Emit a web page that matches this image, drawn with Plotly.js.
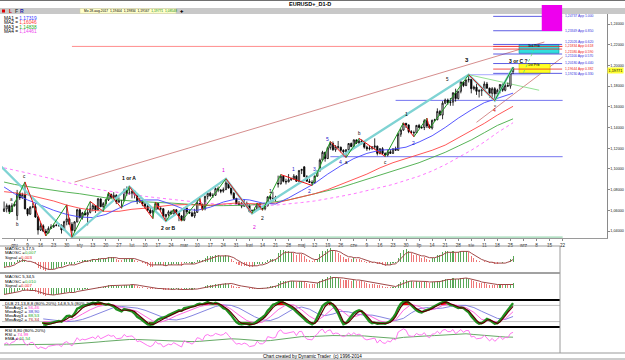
<!DOCTYPE html>
<html><head><meta charset="utf-8">
<script src="https://cdn.plot.ly/plotly-3.0.1.min.js"></script>
<style>html,body{margin:0;padding:0;background:#fff;overflow:hidden}#chart{width:625px;height:360px}</style>
</head><body><div id="chart"></div>
<script>
// ---- Daily EURUSD candles, 28-Nov-2016 .. 28-Aug-2017 (index = trading day) ----
const openP=[1.0590,1.0614,1.0645,1.0588,1.0645,1.0550,1.0765,1.0720,1.0752,1.0614,
1.0563,1.0630,1.0635,1.0535,1.0410,1.0450,1.0399,1.0382,1.0425,1.0440,
1.0453,1.0455,1.0455,1.0410,1.0490,1.0517,1.0465,1.0405,1.0488,1.0605,
1.0530,1.0575,1.0555,1.0580,1.0615,1.0645,1.0605,1.0710,1.0635,1.0665,
1.0700,1.0755,1.0725,1.0745,1.0680,1.0695,1.0695,1.0795,1.0760,1.0765,
1.0785,1.0750,1.0685,1.0695,1.0660,1.0640,1.0600,1.0575,1.0600,1.0665,
1.0615,1.0615,1.0540,1.0560,1.0585,1.0565,1.0605,1.0575,1.0545,1.0505,
1.0620,1.0585,1.0575,1.0545,1.0580,1.0670,1.0655,1.0615,1.0735,1.0765,
1.0740,1.0745,1.0810,1.0795,1.0785,1.0800,1.0865,1.0815,1.0765,1.0715,
1.0655,1.0665,1.0640,1.0665,1.0645,1.0590,1.0600,1.0605,1.0665,1.0615,
1.0615,1.0645,1.0730,1.0715,1.0710,1.0860,1.0855,1.0930,1.0880,1.0875,
1.0895,1.0905,1.0930,1.0880,1.0985,1.1020,1.0925,1.0880,1.0870,1.0865,
1.0930,1.0980,1.1085,1.1160,1.1100,1.1205,1.1245,1.1185,1.1215,1.1210,
1.1180,1.1165,1.1185,1.1245,1.1215,1.1280,1.1250,1.1270,1.1255,1.1210,
1.1195,1.1200,1.1210,1.1220,1.1150,1.1195,1.1150,1.1135,1.1165,1.1150,
1.1195,1.1180,1.1335,1.1375,1.1440,1.1425,1.1360,1.1350,1.1350,1.1420,
1.1400,1.1400,1.1465,1.1415,1.1395,1.1470,1.1475,1.1555,1.1520,1.1635,
1.1665,1.1640,1.1645,1.1735,1.1680,1.1750,1.1840,1.1805,1.1860,1.1865,
1.1775,1.1790,1.1750,1.1755,1.1765,1.1820,1.1780,1.1730,1.1775,1.1725,
1.1760,1.1815,1.1760,1.1805,1.1800,1.1940];
const highP=[1.0685,1.0666,1.0655,1.0668,1.0683,1.0797,1.0780,1.0770,1.0874,1.0620,
1.0640,1.0670,1.0667,1.0547,1.0478,1.0465,1.0420,1.0445,1.0465,1.0470,
1.0470,1.0475,1.0464,1.0499,1.0653,1.0530,1.0485,1.0495,1.0615,1.0620,
1.0585,1.0596,1.0620,1.0685,1.0660,1.0650,1.0720,1.0715,1.0680,1.0710,
1.0775,1.0760,1.0775,1.0755,1.0725,1.0700,1.0810,1.0830,1.0830,1.0790,
1.0790,1.0755,1.0720,1.0710,1.0690,1.0660,1.0620,1.0610,1.0680,1.0670,
1.0640,1.0620,1.0565,1.0600,1.0600,1.0610,1.0610,1.0585,1.0555,1.0625,
1.0630,1.0605,1.0590,1.0615,1.0700,1.0715,1.0665,1.0740,1.0770,1.0780,
1.0765,1.0820,1.0830,1.0805,1.0820,1.0905,1.0875,1.0825,1.0775,1.0720,
1.0690,1.0680,1.0705,1.0685,1.0660,1.0605,1.0625,1.0670,1.0670,1.0625,
1.0650,1.0735,1.0745,1.0780,1.0740,1.0935,1.0945,1.0935,1.0905,1.0950,
1.0915,1.0950,1.0940,1.0985,1.1000,1.1025,1.0940,1.0905,1.0890,1.0935,
1.0990,1.1100,1.1175,1.1165,1.1215,1.1265,1.1265,1.1230,1.1270,1.1215,
1.1190,1.1190,1.1250,1.1255,1.1285,1.1285,1.1295,1.1285,1.1270,1.1225,
1.1225,1.1220,1.1295,1.1225,1.1200,1.1210,1.1160,1.1185,1.1190,1.1195,
1.1215,1.1350,1.1390,1.1445,1.1445,1.1430,1.1375,1.1370,1.1425,1.1435,
1.1415,1.1480,1.1490,1.1430,1.1475,1.1485,1.1585,1.1570,1.1655,1.1680,
1.1680,1.1685,1.1740,1.1775,1.1750,1.1845,1.1845,1.1860,1.1910,1.1870,
1.1805,1.1825,1.1770,1.1775,1.1845,1.1840,1.1785,1.1790,1.1790,1.1775,
1.1820,1.1825,1.1825,1.1835,1.1940,1.1983];
const lowP=[1.0585,1.0580,1.0566,1.0585,1.0636,1.0505,1.0700,1.0713,1.0610,1.0544,
1.0556,1.0620,1.0527,1.0365,1.0400,1.0389,1.0352,1.0377,1.0420,1.0430,
1.0445,1.0440,1.0375,1.0405,1.0455,1.0460,1.0340,1.0390,1.0482,1.0520,
1.0510,1.0550,1.0455,1.0570,1.0590,1.0575,1.0600,1.0630,1.0590,1.0640,
1.0690,1.0710,1.0715,1.0660,1.0670,1.0620,1.0685,1.0740,1.0750,1.0715,
1.0715,1.0660,1.0670,1.0640,1.0615,1.0590,1.0565,1.0520,1.0590,1.0605,
1.0595,1.0525,1.0495,1.0540,1.0560,1.0560,1.0570,1.0495,1.0495,1.0495,
1.0565,1.0565,1.0535,1.0525,1.0575,1.0655,1.0600,1.0600,1.0705,1.0730,
1.0720,1.0740,1.0775,1.0765,1.0770,1.0795,1.0810,1.0745,1.0705,1.0650,
1.0645,1.0620,1.0635,1.0635,1.0580,1.0570,1.0580,1.0600,1.0605,1.0600,
1.0600,1.0635,1.0695,1.0685,1.0685,1.0820,1.0850,1.0870,1.0850,1.0870,
1.0885,1.0895,1.0875,1.0875,1.0950,1.0925,1.0880,1.0865,1.0840,1.0860,
1.0925,1.0975,1.1075,1.1070,1.1095,1.1185,1.1175,1.1165,1.1195,1.1160,
1.1145,1.1110,1.1175,1.1210,1.1205,1.1240,1.1240,1.1235,1.1195,1.1175,
1.1180,1.1185,1.1190,1.1130,1.1140,1.1140,1.1120,1.1120,1.1150,1.1145,
1.1175,1.1175,1.1310,1.1370,1.1395,1.1345,1.1345,1.1310,1.1345,1.1390,
1.1385,1.1375,1.1395,1.1390,1.1380,1.1460,1.1470,1.1515,1.1480,1.1625,
1.1620,1.1610,1.1610,1.1650,1.1670,1.1730,1.1790,1.1800,1.1835,1.1730,
1.1760,1.1715,1.1690,1.1705,1.1755,1.1775,1.1690,1.1680,1.1660,1.1720,
1.1730,1.1745,1.1750,1.1795,1.1775,1.1917];
const closeP=[1.0614,1.0645,1.0588,1.0645,1.0662,1.0765,1.0720,1.0752,1.0614,1.0563,
1.0630,1.0635,1.0535,1.0410,1.0450,1.0399,1.0382,1.0425,1.0440,1.0453,
1.0455,1.0455,1.0410,1.0490,1.0517,1.0465,1.0405,1.0488,1.0605,1.0530,
1.0575,1.0555,1.0580,1.0615,1.0645,1.0605,1.0710,1.0635,1.0665,1.0700,
1.0755,1.0725,1.0745,1.0680,1.0695,1.0695,1.0795,1.0760,1.0765,1.0785,
1.0750,1.0685,1.0695,1.0660,1.0640,1.0600,1.0575,1.0600,1.0665,1.0615,
1.0615,1.0540,1.0560,1.0585,1.0565,1.0605,1.0575,1.0545,1.0505,1.0620,
1.0585,1.0575,1.0545,1.0580,1.0670,1.0655,1.0615,1.0735,1.0765,1.0740,
1.0745,1.0810,1.0795,1.0785,1.0800,1.0865,1.0815,1.0765,1.0715,1.0655,
1.0665,1.0640,1.0665,1.0645,1.0590,1.0600,1.0605,1.0665,1.0615,1.0615,
1.0645,1.0730,1.0715,1.0710,1.0725,1.0855,1.0930,1.0880,1.0875,1.0895,
1.0905,1.0930,1.0880,1.0985,1.0995,1.0925,1.0880,1.0870,1.0865,1.0930,
1.0980,1.1085,1.1160,1.1100,1.1205,1.1245,1.1185,1.1215,1.1210,1.1180,
1.1165,1.1185,1.1245,1.1215,1.1280,1.1250,1.1270,1.1255,1.1210,1.1195,
1.1200,1.1210,1.1220,1.1150,1.1195,1.1150,1.1135,1.1165,1.1150,1.1195,
1.1180,1.1335,1.1375,1.1440,1.1425,1.1360,1.1350,1.1350,1.1420,1.1400,
1.1400,1.1465,1.1415,1.1395,1.1470,1.1475,1.1555,1.1520,1.1635,1.1665,
1.1640,1.1645,1.1735,1.1680,1.1750,1.1840,1.1805,1.1860,1.1865,1.1775,
1.1790,1.1750,1.1755,1.1765,1.1820,1.1780,1.1730,1.1775,1.1725,1.1760,
1.1815,1.1760,1.1805,1.1800,1.1925,1.19771];

// x-axis tick labels (Fridays, Polish month names)
const tickText=["gru","9","16","23","30","sty","13","20","27","lut","10","17","24","mar","10","17","24","31","kwi","14","21","28","maj","12","19","26","cze","9","16","23","30","lip","14","21","28","sie","11","18","25","wrz","8","15","22"];
const priceTicks=[1.04,1.06,1.08,1.10,1.12,1.14,1.16,1.18,1.20,1.22,1.24];

// moving averages read at weekly points
const maIdx=[0,4,9,14,19,24,29,34,39,44,49,54,59,64,69,74,79,84,89,94,99,104,109,114,119,124,129,134,139,144,149,154,159,164,169,174,179,184,189,195];
const ma1=[1.0825,1.0760,1.0700,1.0650,1.0600,1.0560,1.0535,1.0530,1.0560,1.0620,1.0680,1.0700,1.0700,1.0660,1.0610,1.0600,1.0630,1.0680,1.0710,1.0700,1.0670,1.0660,1.0720,1.0790,1.0860,1.0950,1.1030,1.1100,1.1150,1.1180,1.1190,1.1210,1.1260,1.1320,1.1400,1.1490,1.1570,1.1640,1.1680,1.17319];
const ma2=[1.0780,1.0770,1.0750,1.0720,1.0690,1.0650,1.0620,1.0600,1.0590,1.0590,1.0610,1.0620,1.0635,1.0650,1.0655,1.0650,1.0650,1.0660,1.0670,1.0665,1.0660,1.0670,1.0700,1.0730,1.0760,1.0800,1.0850,1.0900,1.0950,1.1010,1.1060,1.1100,1.1140,1.1180,1.1230,1.1300,1.1370,1.1440,1.1520,1.16046];
const ma3=[1.0873,1.0850,1.0830,1.0810,1.0790,1.0775,1.0760,1.0740,1.0720,1.0700,1.0690,1.0680,1.0675,1.0670,1.0660,1.0650,1.0645,1.0645,1.0650,1.0650,1.0665,1.0680,1.0700,1.0730,1.0760,1.0790,1.0820,1.0860,1.0900,1.0940,1.0980,1.1020,1.1060,1.1110,1.1160,1.1220,1.1280,1.1350,1.1420,1.14838];
const ma4=[1.1010,1.0990,1.0960,1.0930,1.0900,1.0870,1.0840,1.0810,1.0790,1.0770,1.0750,1.0735,1.0720,1.0705,1.0690,1.0675,1.0665,1.0660,1.0655,1.0650,1.0648,1.0650,1.0660,1.0675,1.0690,1.0710,1.0735,1.0760,1.0790,1.0820,1.0850,1.0890,1.0930,1.0980,1.1040,1.1110,1.1180,1.1260,1.1350,1.14461];

// swing points (minor zigzag) and major swings
const swingIdx=[2,8,16,24,26,33,38,40,45,48,57,58,62,65,68,75,76,85,95,97,99,106,118,125,131,136,146,153,157,162,163,178,188,195];
const swingPx=[1.0566,1.0874,1.0352,1.0653,1.0340,1.0685,1.0590,1.0775,1.0620,1.0830,1.0520,1.0680,1.0495,1.0610,1.0495,1.0715,1.0600,1.0905,1.0570,1.0670,1.0600,1.0945,1.0840,1.1265,1.1110,1.1295,1.1120,1.1445,1.1310,1.1490,1.1390,1.1910,1.1660,1.1983];
const majorIdx=[-1,26,48,62,85,95,178,188,195];
const majorPx=[1.1020,1.0340,1.0830,1.0495,1.0905,1.0570,1.1910,1.1660,1.1983];

// price projection levels
const fibPx=[1.24737,1.23349,1.22026,1.21834,1.21580,1.21100,1.20180,1.19644,1.19230];
const fibTxt=["1,24737 App 1.000","1,23349 App 0.850","1,22026 App 0.620","1,21834 App 0.618","1,21580 App 0.590","1,21100 App 0.570","1,20180 App 0.440","1,19644 App 0.382","1,19230 App 0.330"];
const fibCol=["#3333dd","#3333dd","#3333dd","#ee2222","#ee2222","#3333dd","#3333dd","#ee2222","#3333dd"];

// MACD 5,17,5 and 5,34,5 (units of 0.001)
const macd1=[-5,-4,-4,-3,-2,2,3,4,2,0,0,0,-2,-6,-7,-9,-10,-9,-8,-7,-6,-5,-5,-3,-2,-2,-3,-2,1,1,2,2,2,3,4,3,5,4,4,5,6,6,6,4,3,2,4,4,4,4,3,1,0,-1,-2,-4,-5,-5,-3,-3,-3,-4,-4,-3,-3,-2,-2,-3,-4,-1,-1,-1,-2,-1,2,3,2,5,7,7,7,8,8,7,7,8,7,4,1,-2,-3,-4,-4,-4,-5,-5,-4,-2,-2,-2,-1,3,4,4,4,10,14,14,13,12,11,10,8,9,9,7,4,2,1,2,4,9,13,13,15,16,14,12,10,8,6,4,5,4,5,4,4,3,1,-1,-1,-1,0,-2,-2,-3,-4,-3,-3,-1,-1,5,10,14,15,12,10,8,8,7,5,6,4,3,5,5,8,8,11,13,12,11,12,10,11,13,12,12,11,7,5,3,1,0,1,0,-1,-1,-2,-2,0,-1,0,0,4,7];
const signal1=[-6,-5,-5,-4,-3,-1,1,2,2,1,1,0,-1,-3,-4,-6,-7,-8,-8,-8,-7,-6,-6,-5,-4,-3,-3,-3,-2,-1,0,1,1,2,3,3,3,4,4,4,5,5,5,5,4,4,4,4,4,4,4,3,2,1,0,-1,-3,-3,-3,-3,-3,-3,-4,-3,-3,-3,-3,-3,-3,-2,-2,-2,-2,-2,-1,0,1,2,3,4,5,6,7,7,7,7,7,6,5,3,1,-1,-2,-3,-4,-4,-4,-4,-3,-3,-2,-1,1,2,3,5,8,10,11,11,11,11,10,10,10,9,7,6,4,3,3,5,7,9,11,13,13,13,12,11,9,7,6,6,5,5,5,4,3,2,1,0,0,-1,-1,-2,-3,-3,-3,-2,-2,1,4,7,10,11,11,10,9,8,7,7,6,5,5,5,6,7,8,10,11,11,11,11,11,12,12,12,12,10,8,6,4,3,2,1,0,0,-1,-1,-1,-1,-1,0,1,3];
const macd2=[-12,-11,-11,-10,-9,-5,-4,-3,-4,-6,-5,-5,-7,-11,-12,-14,-15,-14,-14,-13,-12,-11,-11,-9,-8,-8,-9,-8,-4,-4,-3,-2,-1,0,1,1,3,3,3,4,6,6,7,5,5,5,7,7,7,7,6,4,3,2,1,-1,-2,-2,-1,-1,-1,-3,-3,-3,-3,-2,-2,-3,-4,-2,-2,-2,-3,-2,0,1,1,4,6,6,7,8,8,8,9,10,9,7,5,3,2,1,1,0,-1,-2,-2,-1,-1,-1,0,3,4,4,5,10,14,15,15,15,15,15,13,15,15,13,11,9,8,9,11,15,19,19,22,24,23,22,21,19,17,16,16,15,16,15,15,14,12,10,9,9,9,6,6,4,3,3,2,3,3,8,12,16,17,15,14,13,14,13,12,13,12,11,12,12,14,14,17,19,19,18,20,18,19,21,20,20,19,16,15,13,11,10,10,9,7,7,6,6,7,6,7,6,9,10];
const signal2=[-13,-12,-12,-11,-10,-9,-7,-5,-4,-4,-5,-5,-5,-7,-9,-11,-12,-13,-14,-14,-13,-12,-12,-11,-10,-9,-9,-9,-7,-6,-5,-4,-3,-2,-1,0,1,2,2,3,4,5,5,5,5,5,6,6,6,7,7,6,5,4,3,2,1,0,0,-1,-1,-2,-2,-2,-3,-3,-2,-3,-3,-3,-3,-2,-3,-3,-2,-1,0,1,3,4,5,6,7,7,8,8,9,9,8,6,5,4,3,2,1,0,-1,-1,-1,-1,-1,0,1,2,3,5,8,10,12,13,14,14,14,14,14,14,13,12,11,10,10,12,14,16,18,20,21,21,21,21,20,19,18,17,16,16,16,15,14,13,12,11,10,9,8,7,6,5,4,3,3,5,7,10,12,13,14,14,14,13,13,13,13,12,12,12,13,13,14,16,17,17,18,18,18,19,19,20,19,18,17,15,14,12,11,10,9,8,7,7,7,7,7,7,7,7];

// DLB stochastic (fast green, slow dark red) from bar 15; thin averages every 3 bars from bar 15
const N=null;
const stFast=[N,N,N,N,N,N,N,N,N,N,N,N,N,N,N,
10,8,12,15,18,20,22,20,30,40,42,38,50,68,72,78,80,82,86,90,88,92,88,84,82,85,80,76,66,62,58,66,64,62,58,50,38,32,24,16,10,8,10,20,28,32,34,38,44,48,54,58,62,60,70,72,74,76,78,84,86,84,88,92,88,86,90,86,78,70,66,56,44,30,18,12,10,12,12,8,10,14,22,28,36,44,60,70,82,86,92,96,90,84,80,74,66,56,48,40,30,20,14,10,16,36,60,78,86,92,90,80,66,50,28,10,14,28,40,52,58,62,58,44,30,20,14,16,12,14,14,12,16,22,34,48,70,86,94,96,90,80,70,62,56,54,60,62,66,72,78,84,88,92,94,88,82,80,74,70,72,70,62,54,40,28,18,12,14,22,30,26,18,12,14,24,36,50,62,76,88.53];
const stSlow=[N,N,N,N,N,N,N,N,N,N,N,N,N,N,N,
14,12,11,12,14,17,19,20,24,30,36,38,43,52,62,70,76,80,82,85,87,89,89,87,84,83,82,80,74,68,62,62,63,63,61,57,48,40,31,23,16,11,10,13,19,26,31,35,39,44,49,54,58,60,64,68,72,74,76,80,83,84,86,89,89,88,88,87,83,77,71,63,53,41,29,20,14,12,11,10,10,11,15,21,29,37,49,60,72,80,86,91,92,88,84,79,72,63,54,46,37,28,20,14,13,22,40,60,76,85,89,86,76,62,42,20,13,18,28,40,50,57,59,52,40,28,19,16,14,13,13,13,14,18,26,38,56,74,86,92,92,86,77,68,61,57,57,60,63,68,74,80,85,89,92,91,86,82,78,73,71,71,67,60,49,36,25,16,13,17,25,27,23,16,13,18,28,41,54,67,76.34];
const stAvg1=[20,18,18,22,32,48,64,76,82,82,72,66,58,40,22,18,28,42,54,66,76,82,86,82,66,44,24,14,18,38,64,82,82,64,40,24,44,70,64,40,40,52,36,22,16,26,62,84,76,62,66,80,86,80,72,54,28,22,20,30,56.46];
const stAvg2=[30,26,22,20,22,28,38,50,62,72,76,74,70,62,50,38,28,26,32,42,54,66,76,82,80,70,54,38,26,24,34,52,68,74,66,50,42,48,58,56,48,44,44,38,30,24,32,52,68,72,68,70,76,80,80,72,58,44,32,28,38.90];

// RSI and its EMA (EMA read every 3 bars)
const rsi=[42,46,40,47,49,60,54,57,43,39,46,47,38,29,34,31,29,36,38,40,40,40,35,46,49,43,37,48,60,52,56,54,56,59,62,57,66,57,60,63,68,64,66,57,59,59,69,63,64,65,59,49,51,46,43,38,35,39,50,43,43,34,38,42,40,46,42,38,34,52,47,46,42,48,60,58,52,66,69,65,66,72,69,67,69,75,66,58,50,42,44,41,45,42,35,37,38,50,43,43,48,63,60,59,61,77,82,73,72,74,75,77,66,77,78,64,56,55,54,64,70,80,84,73,80,82,70,73,72,66,63,66,73,67,74,68,70,66,57,54,55,57,59,45,54,46,44,51,48,57,54,76,80,85,81,66,64,64,72,68,68,74,64,60,70,71,78,71,81,83,77,77,83,71,77,83,75,80,80,62,64,57,58,59,67,59,51,58,50,56,64,55,61,60,72,74.99];
const rsiEma=[40,40,41,42,42,41,41,41,42,43,44,46,48,50,52,54,55,55,54,52,51,50,49,49,49,50,52,54,56,57,56,54,52,51,52,55,58,61,63,63,63,65,66,66,66,66,65,63,61,59,58,61,63,64,65,66,67,69,70,71,69,67,65,63,62,61.54];

// ---------------- build ----------------
const W=625,H=360, X=p=>p/W, Y=p=>1-p/H;
const idx=closeP.map((_,i)=>i);
const xr0=-0.8, xr1=231;               // main x range (bar index)
const ppu=605/(xr1-xr0);               // px per bar
const x2r=[xr0, xr0+558/ppu];          // indicator panels are narrower
const F='Liberation Sans, Arial, sans-serif';

const traces=[];
const ln=(x,y,color,width,dash,xa,ya)=>({type:'scatter',mode:'lines',x,y,xaxis:xa||'x',yaxis:ya||'y',line:{color,width,dash:dash||'solid'},hoverinfo:'skip',connectgaps:false});

// MAs
traces.push(ln(maIdx,ma4,'#ff77ff',1,'dot'));
traces.push(ln(maIdx,ma3,'#44aa44',0.9));
traces.push(ln(maIdx,ma2,'#ff4444',0.9));
traces.push(ln(maIdx,ma1,'#4444ff',0.9));
// major swings (cyan)
traces.push(ln(majorIdx,majorPx,'#7fd3d3',2.2));
// candles
traces.push({type:'candlestick',x:idx,open:openP,high:highP,low:lowP,close:closeP,xaxis:'x',yaxis:'y',
  increasing:{line:{color:'#000',width:0.8},fillcolor:'#ffffff'},
  decreasing:{line:{color:'#000',width:0.8},fillcolor:'#000000'},whiskerwidth:0,hoverinfo:'skip'});
// minor zigzag: up legs green, down legs red
const upX=[],upY=[],dnX=[],dnY=[];
for(let i=1;i<swingIdx.length;i++){
  const up=swingPx[i]>swingPx[i-1];
  const ax=up?upX:dnX, ay=up?upY:dnY;
  ax.push(swingIdx[i-1],swingIdx[i],null); ay.push(swingPx[i-1],swingPx[i],null);
}
traces.push(ln(upX,upY,'#1f9a1f',1));
traces.push(ln(dnX,dnY,'#ee1111',1));

// MACD panels
const col=(a,b)=>a.map((v,i)=>v>=b[i]?'#58a858':'#ee7777');
traces.push({type:'bar',x:idx,y:macd1,xaxis:'x2',yaxis:'y2',width:0.4,marker:{color:col(macd1,signal1)},hoverinfo:'skip'});
traces.push(ln(idx,signal1,'#a04848',1,null,'x2','y2'));
traces.push({type:'bar',x:idx,y:macd2,xaxis:'x2',yaxis:'y3',width:0.4,marker:{color:col(macd2,signal2)},hoverinfo:'skip'});
traces.push(ln(idx,signal2,'#a04848',1,null,'x2','y3'));

// stochastic blocks
const bx=[],bb=[],bh=[],bc=[];
stFast.forEach((v,i)=>{const s=stSlow[i]; if(v==null)return;
  if(Math.min(v,s)>85){bx.push(i);bb.push(80);bh.push(Math.max(v,s)-80);bc.push('#ee0000');}
  else if(Math.max(v,s)<15){bx.push(i);bb.push(Math.min(v,s));bh.push(20-Math.min(v,s));bc.push('#4a7d10');}
});
traces.push({type:'bar',x:bx,y:bh,base:bb,xaxis:'x2',yaxis:'y4',width:1,marker:{color:bc,line:{width:0}},hoverinfo:'skip'});
const sIdx=stAvg1.map((_,i)=>15+3*i);
traces.push(ln(sIdx,stAvg2,'#7777dd',0.9,null,'x2','y4'));
traces.push(ln(sIdx,stAvg1,'#ff55dd',0.9,null,'x2','y4'));
traces.push(ln(idx,stFast,'#1f8f1f',2.4,null,'x2','y4'));
traces.push(ln(idx,stSlow,'#5a0000',1.2,null,'x2','y4'));
// RSI
const rIdx=rsiEma.map((_,i)=>3*i);
traces.push(ln(rIdx,rsiEma,'#66aa66',1,null,'x2','y5'));
traces.push(ln(idx,rsi,'#ff66ee',0.9,null,'x2','y5'));

// ---------------- shapes ----------------
const shapes=[];
const pr=(x0,y0,x1,y1,fill,line,lw)=>({type:'rect',xref:'paper',yref:'paper',x0:X(x0),x1:X(x1),y0:Y(y0),y1:Y(y1),fillcolor:fill||'rgba(0,0,0,0)',line:{color:line||'rgba(0,0,0,0)',width:lw||0},layer:'above'});
const pl=(x0,y0,x1,y1,color,w)=>({type:'line',xref:'paper',yref:'paper',x0:X(x0),x1:X(x1),y0:Y(y0),y1:Y(y1),line:{color,width:w||1},layer:'above'});
const dl=(x0,y0,x1,y1,color,w,dash)=>({type:'line',xref:'x',yref:'y',x0,x1,y0,y1,line:{color,width:w||1,dash:dash||'solid'},layer:'below'});

shapes.push(pl(0,0.5,625,0.5,'#707070',1));
shapes.push(pr(0,8,625,14,'#c8c8c8'));
shapes.push(pr(80,8.6,176,13.4,'#ffffcc','#d0d0a0',0.5));
shapes.push(pr(2,9.5,5,12.5,'#dd0000'));
// indicator frame
shapes.push(pl(0,246,560,246,'#9a9a9a',1));
shapes.push(pl(0,273,560,273,'#444',1));
shapes.push(pl(0,300,560,300,'#000',2));
shapes.push(pl(0,327,560,327,'#000',2));
shapes.push(pl(0,353,625,353,'#9a9a9a',1));
shapes.push(pl(560,246,560,353,'#9a9a9a',1));
shapes.push(pl(0,359,625,359,'#9a9a9a',1));
// stochastic 80/20 lines
shapes.push({type:'line',xref:'x2',yref:'y4',x0:x2r[0],x1:x2r[1],y0:80,y1:80,line:{color:'#b0b0b0',width:0.8},layer:'below'});
shapes.push({type:'line',xref:'x2',yref:'y4',x0:x2r[0],x1:x2r[1],y0:20,y1:20,line:{color:'#b0b0b0',width:0.8},layer:'below'});

// main chart helpers: channel, horizontals
shapes.push(dl(27,1.0873,207,1.2226,'#d08080',0.9));
shapes.push(dl(181,1.1450,214,1.2080,'#d08080',0.9));
shapes.push(dl(26,1.0340,214,1.0340,'#9ad6b0',1.2));
shapes.push(dl(150,1.1662,214,1.1662,'#6666ee',0.9));
shapes.push(dl(125,1.1118,214,1.1118,'#6666ee',0.9));
shapes.push(dl(26,1.21834,214,1.21834,'#ff8080',0.9));
shapes.push(dl(178,1.1910,205,1.1910,'#a0a0ff',0.9));
shapes.push(dl(178,1.1910,205,1.1760,'#88dd88',0.9));
// projection zone boxes
shapes.push({type:'rect',xref:'x',yref:'paper',x0:206,x1:213.8,y0:Y(31),y1:Y(5),fillcolor:'#ee00ee',line:{width:0},layer:'above'});
shapes.push({type:'rect',xref:'x',yref:'y',x0:197.3,x1:212.6,y0:1.2117,y1:1.2200,fillcolor:'#33dddd',line:{color:'#009999',width:0.6},layer:'below'});
shapes.push({type:'rect',xref:'x',yref:'y',x0:197.3,x1:209.2,y0:1.1925,y1:1.2018,fillcolor:'#ffff22',line:{color:'#cccc00',width:0.6},layer:'below'});
fibPx.forEach((p,i)=>shapes.push(dl(187.4,p,213.8,p,fibCol[i],0.8)));
// green projection arrow
shapes.push(dl(199,1.1930,203,1.2150,'#66dd66',0.8,'dot'));

// ---------------- annotations ----------------
const ann=[];
const ta=(x,y,text,color,size,opt)=>Object.assign({xref:'paper',yref:'paper',x:X(x),y:Y(y),text,showarrow:false,xanchor:'left',yanchor:'middle',font:{family:F,size:size||5,color:color||'#000'}},opt||{});
const da=(x,y,text,color,size,opt)=>Object.assign({xref:'x',yref:'y',x,y,text,showarrow:false,xanchor:'center',yanchor:'middle',font:{family:F,size:size||5,color:color||'#000'}},opt||{});

ann.push(ta(310,4.5,'<b>EURUSD+_D1-D</b>','#000',5.5,{xanchor:'center'}));
ann.push(ta(7,11,'<b>L</b>','#cc0000',5));
ann.push(ta(12.5,11,'<b>F</b>','#444',5));
ann.push(ta(17.5,11,'<b>R</b>','#2222aa',5));
ann.push(ta(81.5,11,'Mo 28-aug-2017  1,19404  1,19834  1,19167  <span style="color:#118811">1,19771</span>  <span style="color:#118811">1,08548</span>','#000',3.3));
ann.push(ta(182,11,'✚','#000',4.4,{xanchor:'center'}));

const maTxt=[['MA1 = ','1,17319','#3333ff'],['MA2 = ','1,16046','#ff3333'],['MA3 = ','1,14838','#22aa22'],['MA4 = ','1,14461','#ee44ee']];
maTxt.forEach((m,i)=>ann.push(ta(2,18+4.6*i,m[0]+'<span style="color:'+m[2]+'">'+m[1]+'</span>','#000',4.8)));

// current price tag on the price scale (nudged below the 1,20000 tick label)
ann.push({xref:'paper',yref:'y',x:X(615.7),y:1.19771,yshift:-3,text:'1,19771',showarrow:false,xanchor:'center',yanchor:'middle',
  bgcolor:'#ffff33',borderpad:0.6,font:{family:F,size:3.8,color:'#000'}});

// projection labels (small vertical nudges keep tightly packed labels legible)
const fibShift=[0,0,2.2,0,-2.6,-2.4,0.5,0,-0.8];
fibPx.forEach((p,i)=>ann.push({xref:'paper',yref:'y',x:X(563),y:p,yshift:fibShift[i],text:fibTxt[i],showarrow:false,xanchor:'left',yanchor:'middle',font:{family:F,size:3.4,color:fibCol[i]}}));
ann.push(da(200,1.2190,'3rd Prb','#000',3.6,{xanchor:'left'}));
ann.push(da(200,1.2008,'1st Prb','#000',3.6,{xanchor:'left'}));

// wave labels
ann.push(da(48,1.0915,'<b>1 or A</b>','#000',5));
ann.push(da(63,1.0432,'<b>2 or B</b>','#000',5));
ann.push(da(177.5,1.2050,'<b>3</b>','#000',6));
ann.push(da(197,1.2040,'<b>3 or C ?</b>','#000',5));
ann.push(da(84,1.0990,'1','#dd00dd',5));
ann.push(da(96,1.0440,'2','#dd00dd',5));
ann.push(da(8,1.0930,'c','#000',4.5));
ann.push(da(3,1.0700,'a','#000',4.5));
ann.push(da(5,1.0460,'b','#000',4.5));
ann.push(da(154,1.1530,'1','#000',5));
ann.push(da(157,1.1250,'2','#2222cc',5));
ann.push(da(170,1.1860,'5','#000',4.5));
ann.push(da(188,1.1570,'4','#cc0000',5));
ann.push(da(188,1.1610,'v','#000',4));
ann.push(da(119,1.1000,'3','#2222cc',5));
ann.push(da(124,1.1290,'5','#2222cc',5));
ann.push(da(129,1.1070,'4','#2222cc',5));
ann.push(da(117,1.0790,'2','#2222cc',5));
ann.push(da(111,1.1000,'1','#2222cc',5));
ann.push(da(102,1.0790,'1','#000',5));
ann.push(da(99,1.0530,'2','#000',5));
ann.push(da(136,1.1340,'b','#000',4.5));
ann.push(da(146,1.1060,'c','#000',4.5));
ann.push(da(131,1.1060,'a','#000',4.5));

// indicator legends
const L=(y,t)=>ann.push(ta(3,y,t,'#000',4.4));
L(248.5,'MAOSC 5,17,5');
L(252.8,'MAOSC =<span style="color:#22aa22">0,007</span>');
L(257.1,'Signal =<span style="color:#ee2222">0,003</span>');
L(276.7,'MAOSC 5,34,5');
L(281,'MAOSC =<span style="color:#22aa22">0,010</span>');
L(285.3,'Signal =<span style="color:#ee2222">0,007</span>');
L(303.5,'DLB 21,13,8,8 (80%-20%) 14,8,5,5 (80%-20%)');
L(307.5,'MovAvg1 = <span style="color:#ff33cc">56,46</span>');
L(311.5,'MovAvg2 = <span style="color:#3333cc">38,90</span>');
L(315.5,'MovAvg3 = <span style="color:#22aa22">88,53</span>');
L(319.5,'MovAvg2 = <span style="color:#aa2222">76,34</span>');
L(330,'RSI 8,80 (80%-20%)');
L(334.2,'RSI = <span style="color:#ff33cc">74,99</span>');
L(338.4,'EMA = <span style="color:#22aa22">61,54</span>');
ann.push(ta(312,356,'Chart created by Dynamic Trader  (c) 1996-2014','#000',4.6,{xanchor:'center'}));

// ---------------- layout ----------------
const ax2={domain:[X(2),X(560)],range:x2r,showgrid:false,zeroline:false,showticklabels:false,ticks:'',showline:false,fixedrange:true};
const yPanel=(d,r,anchor)=>({domain:d,range:r,showgrid:false,zeroline:false,showticklabels:false,ticks:'',showline:false,anchor:anchor||'x2',fixedrange:true});
const layout={
  width:W,height:H,margin:{l:0,r:0,t:0,b:0},paper_bgcolor:'#ffffff',plot_bgcolor:'rgba(0,0,0,0)',
  showlegend:false,hovermode:false,dragmode:false,
  xaxis:{domain:[X(2),X(607)],range:[xr0,xr1],showgrid:false,zeroline:false,rangeslider:{visible:false},
    tickmode:'array',tickvals:tickText.map((_,i)=>4+5*i),ticktext:tickText,ticks:'outside',ticklen:2,tickcolor:'#888',
    tickfont:{family:F,size:4.6,color:'#222'},showline:true,linecolor:'#9a9a9a',linewidth:1,anchor:'y',fixedrange:true},
  yaxis:{domain:[Y(238),Y(14)],range:[1.03324,1.24966],side:'right',showgrid:false,zeroline:false,
    tickmode:'array',tickvals:priceTicks,ticktext:priceTicks.map(v=>v.toFixed(5).replace('.',',')),
    ticks:'outside',ticklen:1.5,tickcolor:'#888',tickfont:{family:F,size:3.8,color:'#222'},
    showline:true,linecolor:'#8a8a8a',linewidth:1,anchor:'x',fixedrange:true},
  xaxis2:Object.assign({anchor:'y5'},ax2),
  yaxis2:yPanel([Y(273),Y(246)],[-12,18]),
  yaxis3:yPanel([Y(300),Y(273)],[-24,30]),
  yaxis4:yPanel([Y(327),Y(300)],[0,100]),
  yaxis5:yPanel([Y(352),Y(327)],[20,90]),
  shapes,annotations:ann,bargap:0
};
Plotly.newPlot('chart',traces,layout,{staticPlot:true,displayModeBar:false});
</script></body></html>
